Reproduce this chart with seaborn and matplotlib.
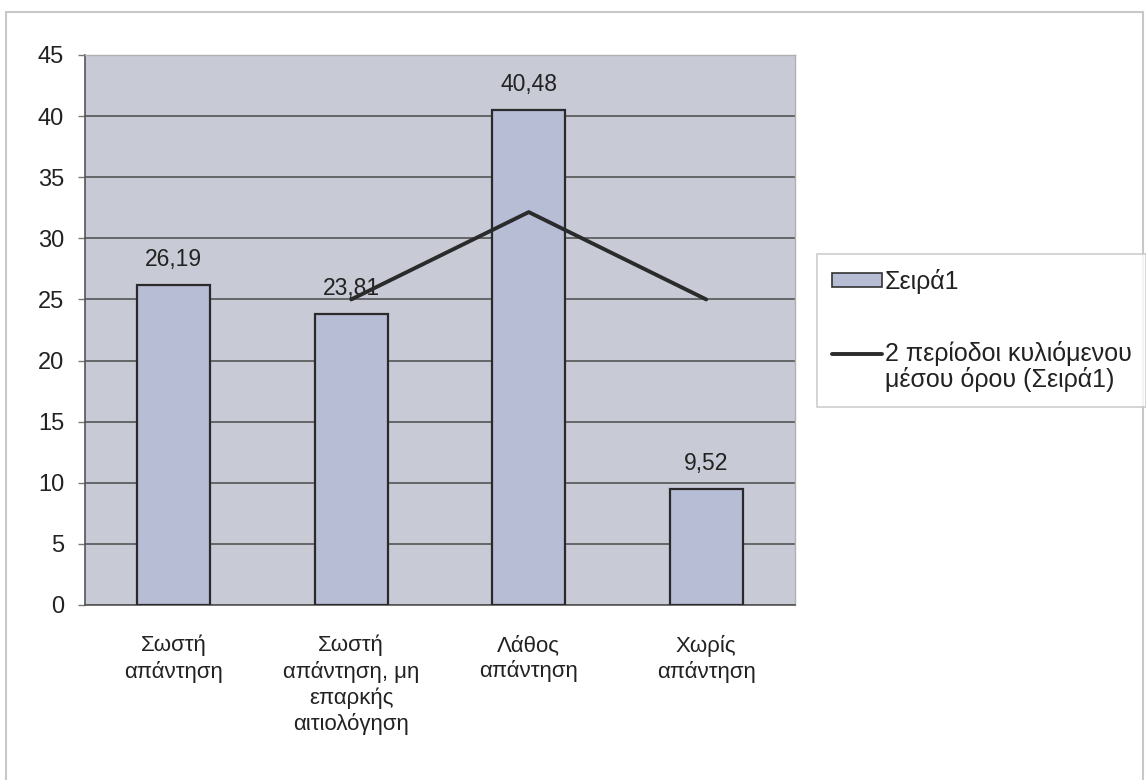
import matplotlib
matplotlib.use("Agg")
import matplotlib.pyplot as plt
from matplotlib.patches import Rectangle
from matplotlib.lines import Line2D
from matplotlib.patches import Patch
from matplotlib.legend_handler import HandlerLine2D
import seaborn as sns
import pandas as pd

categories = [
    "Σωστή\nαπάντηση",
    "Σωστή\nαπάντηση, μη\nεπαρκής\nαιτιολόγηση",
    "Λάθος\nαπάντηση",
    "Χωρίς\nαπάντηση",
]
values = [26.19, 23.81, 40.48, 9.52]
series_name = "Σειρά1"
trend_name = "2 περίοδοι κυλιόμενου\nμέσου όρου (Σειρά1)"
y_ticks = [0, 5, 10, 15, 20, 25, 30, 35, 40, 45]

df = pd.DataFrame({"category": categories, "value": values})
df["moving_avg"] = df["value"].rolling(2).mean()

sns.set_style("white")
plt.rcParams["font.family"] = ["Liberation Sans", "DejaVu Sans"]

fig = plt.figure(figsize=(11.46, 7.8), dpi=100)
fig.patch.set_facecolor("white")

# outer chart frame
fig.add_artist(Rectangle((0.005, -0.01), 0.992, 0.995, transform=fig.transFigure,
                         fill=False, edgecolor="#c8c8c8", linewidth=1.5))

ax = fig.add_axes([0.0742, 0.2244, 0.6195, 0.7051])
ax.set_facecolor("#c8cbd6")

bar_color = "#b8bdd6"
text_color = "#222222"
sns.barplot(data=df, x="category", y="value", ax=ax, width=0.41,
            color=bar_color, edgecolor="#2a2a2a", linewidth=1.6, saturation=1,
            zorder=3)

for c in ax.containers:
    ax.bar_label(c, labels=[f"{v:.2f}".replace(".", ",") for v in values],
                 padding=10, fontsize=16.5, color=text_color)

xs = list(range(len(categories)))
ax.plot(xs, df["moving_avg"], color="#2b2b2b", linewidth=2.8, zorder=4,
        solid_capstyle="round")

ax.set_ylim(0, 45)
ax.set_xlim(-0.5, 3.5)
ax.set_yticks(y_ticks)
ax.set_yticklabels([str(t) for t in y_ticks], fontsize=17, color=text_color)
ax.set_xticklabels(categories, fontsize=16, color=text_color, linespacing=1.27)
ax.set_xlabel("")
ax.set_ylabel("")
ax.yaxis.grid(True, color="#4a4a4a", linewidth=1.1, zorder=1)
ax.set_axisbelow(True)
ax.tick_params(axis="y", left=True, length=5, width=1, color="#777777", pad=10)
ax.tick_params(axis="x", bottom=False, pad=18)

for side in ["top", "right"]:
    ax.spines[side].set_color("#b0b0b0")
    ax.spines[side].set_linewidth(1)
ax.spines["left"].set_color("#555555")
ax.spines["bottom"].set_color("#555555")
ax.spines["left"].set_linewidth(1.2)
ax.spines["bottom"].set_linewidth(1.2)


class FirstLineHandler(HandlerLine2D):
    """Line legend key aligned with the first line of a two-line label."""

    def __init__(self, shift, **kw):
        super().__init__(**kw)
        self.shift = shift

    def create_artists(self, legend, orig_handle, xdescent, ydescent,
                       width, height, fontsize, trans):
        artists = super().create_artists(legend, orig_handle, xdescent,
                                         ydescent, width, height, fontsize,
                                         trans)
        for a in artists:
            a.set_ydata([y + self.shift for y in a.get_ydata()])
        return artists


legend_fs = 18
line_handle = Line2D([0], [0], color="#2b2b2b", linewidth=2.8)
handles = [
    Patch(facecolor=bar_color, edgecolor="#333333", linewidth=1.2),
    line_handle,
]
leg = fig.legend(handles, [series_name, trend_name],
                 loc="upper left", bbox_to_anchor=(0.713, 0.675),
                 fontsize=legend_fs, frameon=True, fancybox=False,
                 edgecolor="#c0c0c0", labelspacing=1.9, handlelength=2.0,
                 handleheight=0.5, handletextpad=0.1, borderpad=0.6,
                 borderaxespad=0,
                 handler_map={line_handle: FirstLineHandler(shift=0.55 * legend_fs)})
for t in leg.get_texts():
    t.set_color(text_color)
    t.set_linespacing(1.05)
leg.get_frame().set_linewidth(1.2)

fig.savefig("out.png", dpi=100, facecolor="white")
